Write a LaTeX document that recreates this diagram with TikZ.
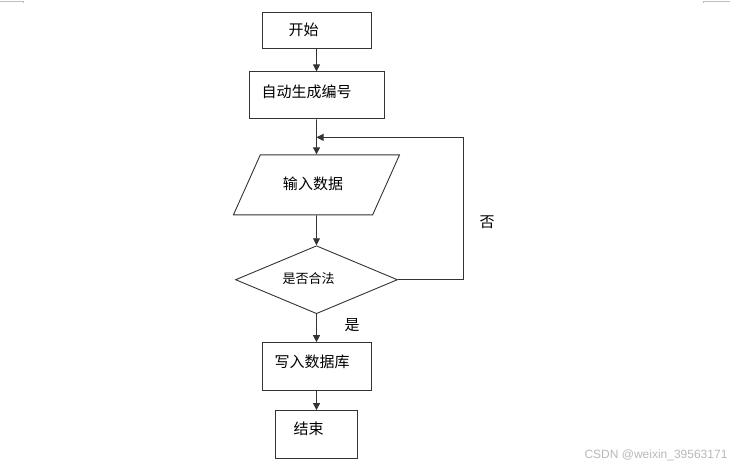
\documentclass[tikz,border=0pt]{standalone}
\usepackage{fontspec}
\usepackage{tikz}
\usepackage{xcolor}
\usetikzlibrary{positioning, shapes.geometric, arrows.meta}
\setmainfont{Noto Sans CJK SC}
\newfontfamily\markfont{Liberation Sans}

\begin{document}
\begin{tikzpicture}
[
x=1pt, y=-1pt,
>={Triangle[length=7pt, width=7pt]},
line-a/.style={draw=black!80, line width=0.9pt},
box-a/.style={rectangle, line-a, inner sep=0pt, font=\fontsize{15}{16}\selectfont},
data-a/.style={trapezium, trapezium left angle=51, trapezium right angle=129, trapezium stretches=true, line-a, inner sep=0pt, minimum width=167pt, minimum height=60pt, font=\fontsize{15}{16}\selectfont},
test-a/.style={diamond, aspect=2.35, line-a, inner sep=0pt, minimum width=162pt, minimum height=68pt, font=\fontsize{13}{15}\selectfont},
text-a/.style={black, font=\fontsize{15}{16}\selectfont}
]
\useasboundingbox (0,0) rectangle (749,467);
\node (box-start)  [box-a, minimum width=109pt, minimum height=36pt] at (316.5,30)  {\hspace*{-26pt}开始};
\node (box-auto)   [box-a, minimum width=135pt, minimum height=47pt, below = 23.00pt of box-start] {\hspace*{-20pt}\raisebox{8pt}{自动生成编号}};
\path (box-auto.south) ++(0,18) coordinate (join);
\node (box-input)  [data-a, below       =  35.00pt of box-auto]    {\hspace*{-7pt}\raisebox{3pt}{输入数据}};
\node (box-check)  [test-a, below       =  30.00pt of box-input]   {\hspace*{-16pt}\raisebox{3pt}{是否合法}};
\node (box-write)  [box-a, minimum width=109pt, minimum height=48pt, below = 28.00pt of box-check] {\hspace*{-9pt}\raisebox{10pt}{写入数据库}};
\node (box-end)    [box-a, minimum width=82pt, minimum height=48pt, below = 19.00pt of box-write] {\hspace*{-16pt}\raisebox{12pt}{结束}};
\node (no)         [text-a] at (487,222) {否};
\node (yes)        [text-a] at (352,325) {是};
\draw [line-a, ->] (box-start) -- (box-auto);
\draw [line-a, ->] (box-auto) -- (box-input);
\draw [line-a, ->] (box-input) -- (box-check);
\draw [line-a, ->] (box-check) -- (box-write);
\draw [line-a, ->] (box-write) -- (box-end);
\draw [line-a, ->] (box-check.east) -- ++(65,0) |- (join);
% page marks and watermark
\draw [black!25, line width=0.8pt] (0,1) -- (23,1) -- (23,3);
\draw [black!25, line width=0.8pt] (703,3) -- (703,1) -- (730,1);
\node (mark) [text=black!28, font=\markfont\fontsize{12}{14}\selectfont] at (656,455) {CSDN @weixin\_39563171};
\end{tikzpicture}
\end{document}
